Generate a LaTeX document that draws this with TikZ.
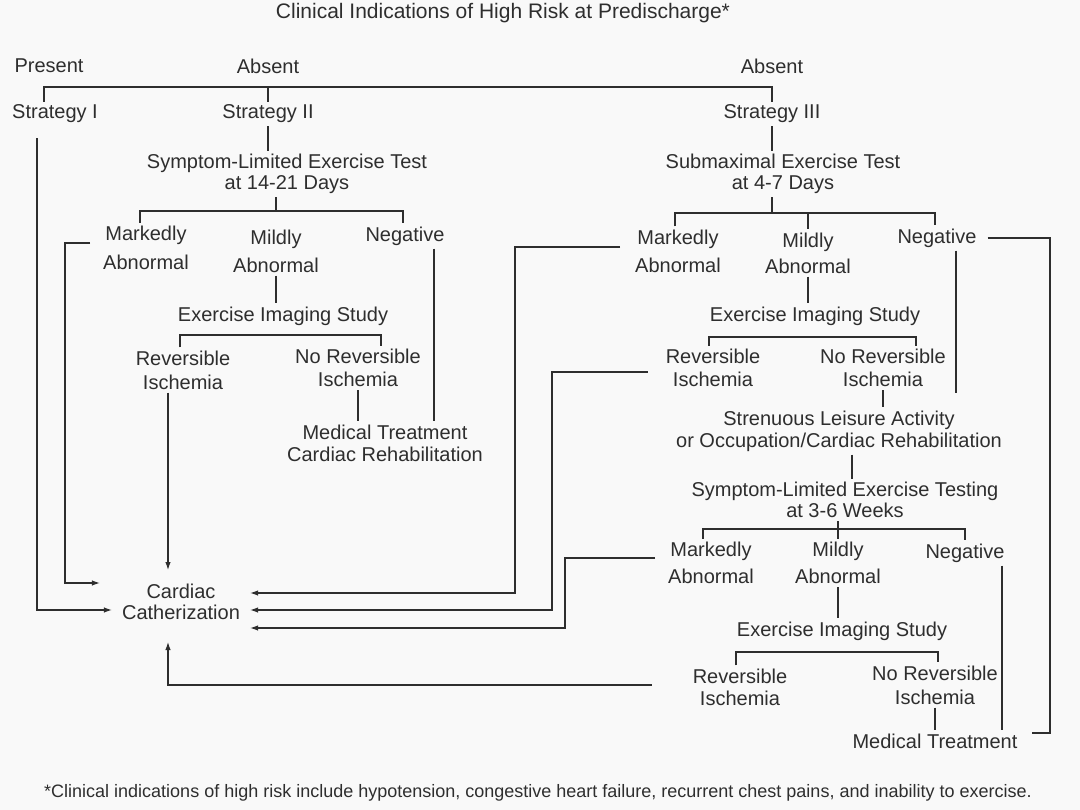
\documentclass[tikz,border=0pt]{standalone}
\usepackage{fontspec}
\setmainfont{Liberation Sans}
\usepackage{xcolor}
\definecolor{ink}{HTML}{2E2E2E}
\definecolor{paper}{HTML}{F9F9F9}
\usetikzlibrary{arrows.meta,positioning,calc}

\begin{document}
\begin{tikzpicture}[
  x=1pt, y=-1pt,
  lbl/.style={align=center, text=ink, inner sep=3pt, font=\fontsize{20}{21}\selectfont},
  head/.style={text=ink, inner sep=0pt, font=\fontsize{21}{23}\selectfont},
  note/.style={text=ink, inner sep=0pt, font=\fontsize{18}{20}\selectfont},
  link/.style={draw=ink, line width=1.1pt},
  arr/.style={link, -{Latex[length=8pt,width=5.5pt]}}
]
\fill[paper] (0,0) rectangle (1080,810);
\useasboundingbox (0,0) rectangle (1080,810);

\node[head] (title) at (503,13) {Clinical Indications of High Risk at Predischarge*};

\node[lbl] (pres) at (49,66) {Present};
\node[lbl] (absL) at (268,66) {Absent};
\node[lbl] (absR) at (772,66) {Absent};
\node[lbl] (s1) at (55,114) {Strategy I};
\node[lbl] (s2) at (268,114) {Strategy II};
\node[lbl] (s3) at (772,114) {Strategy III};

% strategy II
\node[lbl] (ex2) at (287,174) {Symptom-Limited Exercise Test\\at 14-21 Days};
\node[lbl] (mk2) at (146,248) {Markedly\\[8pt]Abnormal};
\node[lbl] (mi2) at (276,251) {Mildly\\[7pt]Abnormal};
\node[lbl] (ng2) at (405,236) {Negative};
\node[lbl] (im2) at (283,316) {Exercise Imaging Study};
\node[lbl] (rv2) at (183,370) {Reversible\\[3pt]Ischemia};
\node[lbl] (nr2) at (358,368) {No Reversible\\[2pt]Ischemia};
\node[lbl] (mt2) at (385,443) {Medical Treatment\\[1pt]Cardiac Rehabilitation};
\node[lbl, inner xsep=10pt] (cath) at (181,602) {Cardiac\\Catherization};

% strategy III
\node[lbl] (ex3) at (783,174) {Submaximal Exercise Test\\at 4-7 Days};
\node[lbl] (mk3) at (678,251) {Markedly\\[7pt]Abnormal};
\node[lbl] (mi3) at (808,253) {Mildly\\[5pt]Abnormal};
\node[lbl] (ng3) at (937,238) {Negative};
\node[lbl] (im3) at (815,316) {Exercise Imaging Study};
\node[lbl] (rv3) at (713,368) {Reversible\\[2pt]Ischemia};
\node[lbl] (nr3) at (883,368) {No Reversible\\[2pt]Ischemia};
\node[lbl] (sl) at (839,431) {Strenuous Leisure Activity\\[1pt]or Occupation/Cardiac Rehabilitation};
\node[lbl] (sx) at (845,500) {Symptom-Limited Exercise Testing\\at 3-6 Weeks};
\node[lbl] (mk4) at (711,563) {Markedly\\[6pt]Abnormal};
\node[lbl] (mi4) at (838,563) {Mildly\\[6pt]Abnormal};
\node[lbl] (ng4) at (965,553) {Negative};
\node[lbl] (im4) at (842,631) {Exercise Imaging Study};
\node[lbl] (rv4) at (740,687) {Reversible\\[1pt]Ischemia};
\node[lbl] (nr4) at (935,685) {No Reversible\\[3pt]Ischemia};
\node[lbl] (mt4) at (935,741) {Medical Treatment};

\node[note] (foot) at (538,793) {*Clinical indications of high risk include hypotension, congestive heart failure, recurrent chest pains, and inability to exercise.};

% top bar
\coordinate (t1) at (44,87);
\coordinate (t3) at (772,87);
\draw[link] (t1 |- s1.north) -- (t1) -- (t3) -- (t3 |- s3.north);
\draw[link] (s2.north) -- (s2.north |- t1);

\foreach \a/\b in {s2/ex2, mi2/im2, nr2/mt2, s3/ex3, mi3/im3, nr3/sl, mi4/im4, nr4/mt4}
  \draw[link] (\a.south) -- (\a.south |- \b.north);

% brackets
\foreach \l/\r/\y/\p/\q in {140/403/211/mk2/ng2, 180/381/335/rv2/nr2,
    675/935/213/mk3/ng3, 709/916/337/rv3/nr3, 703/965/529/mk4/ng4, 736/938/652/rv4/nr4} {
  \coordinate (L) at (\l,\y);
  \coordinate (R) at (\r,\y);
  \draw[link] (L |- \p.north) -- (L) -- (R) -- (R |- \q.north);
}
\draw[link] (mi2.north |- ex2.south) -- (mi2.north |- 0,211);
\draw[link] (s3.south |- ex3.south) -- (s3.south |- 0,213);
\draw[link] (mi3.north |- 0,213) -- (mi3.north);
\draw[link] (mi4.north |- sx.south) -- (mi4.north);

\coordinate (v5) at (852,0);
\draw[link] (sl.south -| v5) -- (sx.north -| v5);

% negatives
\coordinate (n2) at (434,0);
\draw[link] (ng2.south -| n2) -- (mt2.north -| n2);
\coordinate (n3) at (956,0);
\draw[link, shorten >=14pt] (ng3.south -| n3) -- (sl.north -| n3);
\coordinate (n4) at (1002,0);
\draw[link] (ng4.south -| n4) -- (mt4.north -| n4);
\coordinate (e1) at (1050,0);
\draw[link, shorten <=8pt, shorten >=11pt] (ng3.east) -- (ng3.east -| e1) |- ([yshift=8pt]mt4.east);

% into catheterization
\coordinate (l1) at (37,610);
\draw[arr, shorten <=12pt] (s1.south -| l1) -- (l1) -- (l1 -| cath.west);
\coordinate (l2) at (65,583);
\draw[arr, shorten <=10pt, shorten >=12pt] ([yshift=5pt]mk2.west) -| (l2) -- (l2 -| cath.west);
\coordinate (cTop) at (168,570);
\draw[arr] (rv2.south -| cTop) -- (cTop);
\coordinate (r1) at (515,593);
\draw[arr, shorten <=12pt] ([yshift=4pt]mk3.west) -| (r1) -- (r1 -| cath.east);
\coordinate (r2) at (552,610);
\draw[arr, shorten <=15pt] ([yshift=-4pt]rv3.west) -| (r2) -- (r2 -| cath.east);
\coordinate (r3) at (565,628);
\draw[arr, shorten <=10pt] ([yshift=5pt]mk4.west) -| (r3) -- (r3 -| cath.east);
\coordinate (cBot) at (168,642);
\draw[arr, shorten <=38pt] ([yshift=2pt]rv4.west) -| (cBot);

\end{tikzpicture}
\end{document}
